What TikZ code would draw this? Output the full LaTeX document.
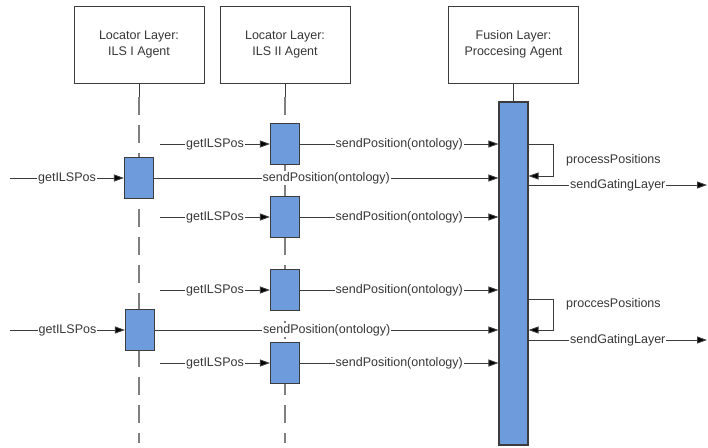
\documentclass[tikz,border=0pt]{standalone}
\usepackage{fontspec}
\setmainfont{Liberation Sans}
\usetikzlibrary{arrows.meta}
\definecolor{actfill}{RGB}{110,155,220}
\definecolor{edgegray}{RGB}{60,60,60}
\definecolor{lifegray}{RGB}{128,128,128}
\definecolor{txtgray}{RGB}{55,55,55}

\begin{document}
\begin{tikzpicture}[x=1pt,y=-1pt,
  font=\fontsize{12.5}{15.5}\selectfont,
  header/.style={draw=edgegray, line width=1pt, fill=white, minimum width=130pt,
    minimum height=77pt, align=center, text=txtgray, inner sep=0pt},
  act/.style={draw=edgegray, line width=1.1pt, fill=actfill, minimum width=29pt,
    minimum height=41pt, inner sep=0pt},
  lifeline/.style={draw=lifegray, line width=1.5pt, dash pattern=on 18pt off 10pt},
  stem/.style={draw=edgegray, line width=1pt},
  msg/.style={draw=edgegray, line width=0.9pt,
    -{Triangle[length=10pt,width=7pt,fill=black]}},
  lbl/.style={fill=white, inner sep=1pt, text=txtgray},
  note/.style={anchor=west, inner sep=0pt, text=txtgray},
]
\useasboundingbox (0,0) rectangle (708,447);

% lifeline heads
\node[header] (h1) at (139,44.5) {Locator Layer:\\ILS I Agent};
\node[header] (h2) at (285,44.5) {Locator Layer:\\ILS II Agent};
\node[header] (h3) at (513.5,44.5) {Fusion Layer:\\Proccesing Agent};

% lifelines
\coordinate (l1top) at (139,97);
\coordinate (l1bot) at (139,443);
\coordinate (l2top) at (285,97);
\coordinate (l2bot) at (285,443);
\draw[stem] (h1.south) -- (l1top);
\draw[lifeline] (l1top) -- (l1bot);
\draw[stem] (h2.south) -- (l2top);
\draw[lifeline] (l2top) -- (l2bot);

% activations
\node[act] (a2a) at (285,144) {};
\node[act] (a1a) at (139,178) {};
\node[act] (a2b) at (285,217) {};
\node[act] (a2c) at (285,290) {};
\node[act] (a1b) at (140,330) {};
\node[act] (a2d) at (285,363) {};
\node[act, minimum height=343pt] (bar) at (513.5,273.5) {};
\draw[stem] (h3.south) -- (bar.north);

% incoming requests
\coordinate (r2a) at (160,144);
\coordinate (r1a) at (10,178);
\coordinate (r2b) at (160,217);
\coordinate (r2c) at (160,290);
\coordinate (r1b) at (10,330);
\coordinate (r2d) at (160,363);
\draw[msg] (r2a) -- node[lbl] {getILSPos} (a2a.west);
\draw[msg] (r1a) -- node[lbl] {getILSPos} (a1a.west);
\draw[msg] (r2b) -- node[lbl] {getILSPos} (a2b.west);
\draw[msg] (r2c) -- node[lbl] {getILSPos} (a2c.west);
\draw[msg] (r1b) -- node[lbl] {getILSPos} (a1b.west);
\draw[msg] (r2d) -- node[lbl] {getILSPos} (a2d.west);

% positions sent to the fusion agent
\draw[msg] (a2a.east) -- node[lbl] {sendPosition(ontology)} (a2a.east -| bar.west);
\draw[msg] (a1a.east) -- node[lbl] {sendPosition(ontology)} (a1a.east -| bar.west);
\draw[msg] (a2b.east) -- node[lbl] {sendPosition(ontology)} (a2b.east -| bar.west);
\draw[msg] (a2c.east) -- node[lbl] {sendPosition(ontology)} (a2c.east -| bar.west);
\draw[msg] (a1b.east) -- node[lbl] {sendPosition(ontology)} (a1b.east -| bar.west);
\draw[msg] (a2d.east) -- node[lbl] {sendPosition(ontology)} (a2d.east -| bar.west);

% self calls
\coordinate (p1a) at (553,144);
\coordinate (p1b) at (553,176);
\coordinate (p2a) at (553,299);
\coordinate (p2b) at (553,330);
\draw[msg] (p1a -| bar.east) -- (p1a) -- (p1b) -- (p1b -| bar.east);
\draw[msg] (p2a -| bar.east) -- (p2a) -- (p2b) -- (p2b -| bar.east);
\node[note] (n1) at (566,160) {processPositions};
\node[note] (n2) at (566,304) {proccesPositions};

% outgoing results
\coordinate (g1) at (707,185);
\coordinate (g2) at (707,340);
\draw[msg] (g1 -| bar.east) -- node[lbl] {sendGatingLayer} (g1);
\draw[msg] (g2 -| bar.east) -- node[lbl] {sendGatingLayer} (g2);
\end{tikzpicture}
\end{document}
